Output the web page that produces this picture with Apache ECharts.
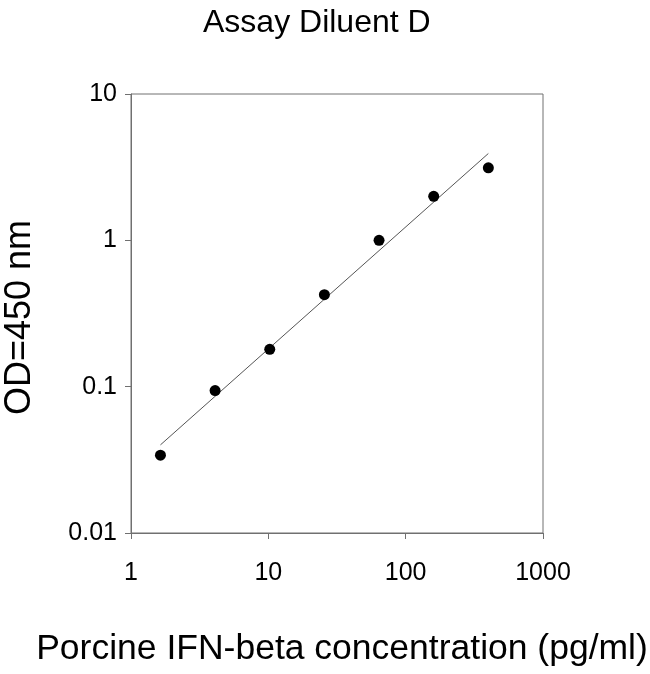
<!DOCTYPE html>
<html>
<head>
<meta charset="utf-8">
<script src="https://cdn.jsdelivr.net/npm/echarts@6/dist/echarts.min.js"></script>
<style>html,body{margin:0;padding:0;background:#fff;}#c{width:650px;height:674px;}</style>
</head>
<body>
<div id="c"></div>
<script>
const titleText = 'Assay Diluent D';
const xName = 'Porcine IFN-beta concentration (pg/ml)';
const yName = 'OD=450 nm';
const concentrations = [1.6384, 4.096, 10.24, 25.6, 64, 160, 400];
const odValues = [0.034, 0.094, 0.18, 0.425, 1.0, 2.0, 3.13];
const xTicks = [1, 10, 100, 1000];
const yTicks = [0.01, 0.1, 1, 10];

// log-log linear regression for the fitted line
const lx = concentrations.map(Math.log10), ly = odValues.map(Math.log10);
const n = lx.length;
const mx = lx.reduce((a,b)=>a+b,0)/n, my = ly.reduce((a,b)=>a+b,0)/n;
let sxy=0, sxx=0;
for (let i=0;i<n;i++){ sxy+=(lx[i]-mx)*(ly[i]-my); sxx+=(lx[i]-mx)*(lx[i]-mx); }
const slope = sxy/sxx, icpt = my - slope*mx;
const fitX = [concentrations[0], concentrations[n-1]];
const fitLine = fitX.map(x => [x, Math.pow(10, icpt + slope*Math.log10(x))]);

const axisColor = '#707070';
const font = 'Arial, "Liberation Sans", sans-serif';
const chart = echarts.init(document.getElementById('c'), null, {renderer:'canvas'});
chart.setOption({
  animation: false,
  backgroundColor: '#fff',
  title: {
    text: titleText, left: 203, top: 7, padding: 0,
    textStyle: {fontFamily: font, fontWeight: 'normal', fontSize: 32, color: '#000'}
  },
  grid: {left: 131, right: 107, top: 94, bottom: 141, show: true, borderColor: axisColor, borderWidth: 1,
    containLabel: false, outerBoundsMode: 'none'},
  xAxis: {
    type: 'log', logBase: 10, min: xTicks[0], max: xTicks[xTicks.length-1],
    name: xName, nameLocation: 'middle', nameGap: 98,
    nameTextStyle: {fontFamily: font, fontSize: 35.5, color: '#000', padding: [0, 0, 0, 10]},
    axisLine: {lineStyle: {color: axisColor, width: 1}},
    axisTick: {show: true, inside: false, length: 6, lineStyle: {color: axisColor}},
    axisLabel: {fontFamily: font, fontSize: 25, color: '#000', margin: 28,
      formatter: v => String(v)},
    splitLine: {show: false}, minorTick: {show: false}
  },
  yAxis: {
    type: 'log', logBase: 10, min: yTicks[0], max: yTicks[yTicks.length-1],
    name: yName, nameLocation: 'middle', nameGap: 93, nameRotate: 90,
    nameTextStyle: {fontFamily: font, fontSize: 36, color: '#000', padding: [0, 8, 0, 0]},
    axisLine: {lineStyle: {color: axisColor, width: 1}},
    axisTick: {show: true, inside: false, length: 6, lineStyle: {color: axisColor}},
    axisLabel: {fontFamily: font, fontSize: 25, color: '#000', margin: 14,
      formatter: v => String(v)},
    splitLine: {show: false}, minorTick: {show: false}
  },
  series: [
    {type: 'line', data: fitLine, symbol: 'none', lineStyle: {color: '#555', width: 1}, z: 1},
    {type: 'scatter', data: concentrations.map((x,i)=>[x, odValues[i]]), symbol: 'circle', symbolSize: 11,
      itemStyle: {color: '#000', opacity: 1}, z: 2}
  ]
});
</script>
</body>
</html>
